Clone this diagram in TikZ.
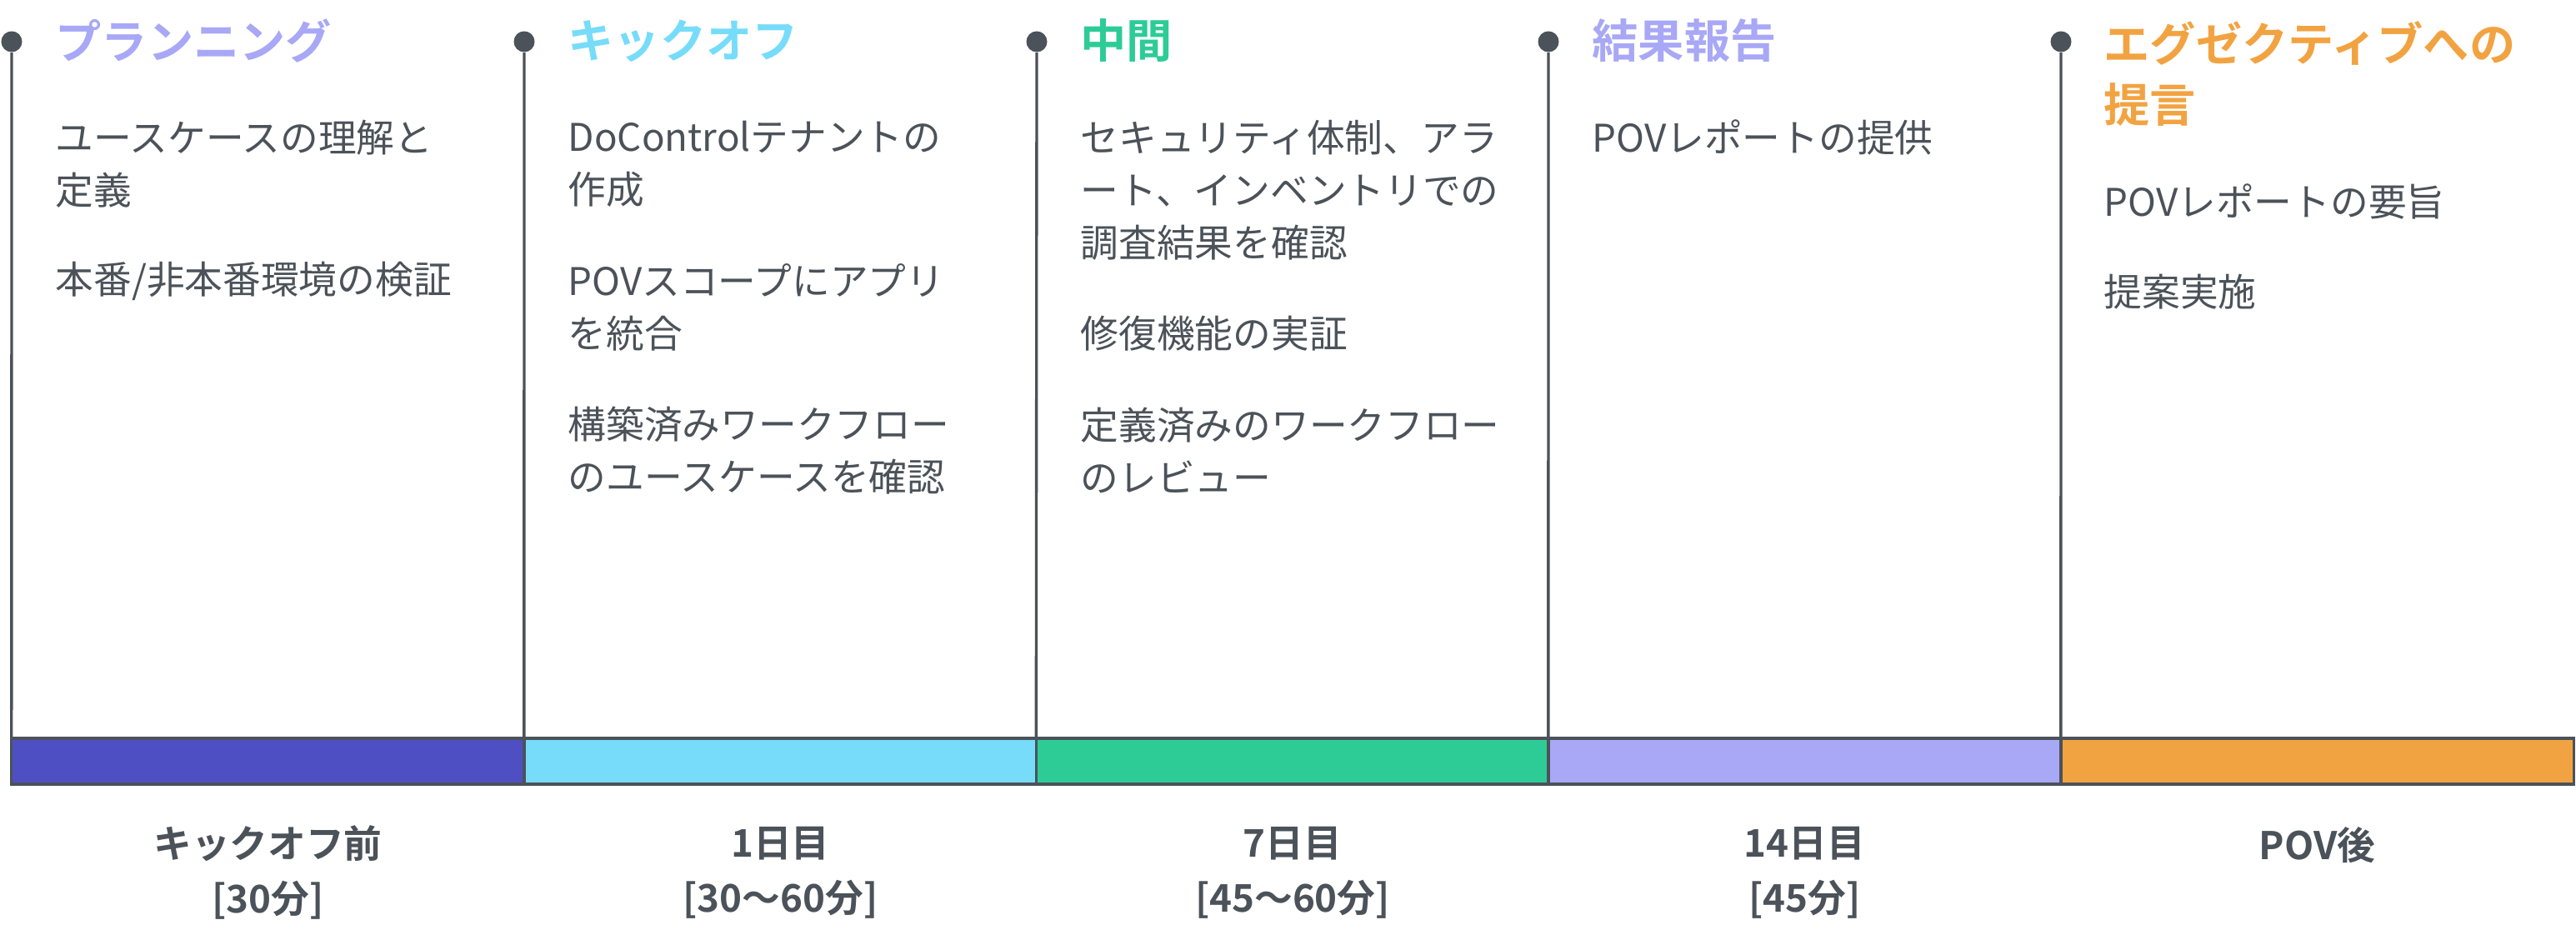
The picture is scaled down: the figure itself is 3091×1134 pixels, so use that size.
\documentclass[tikz,border=0pt]{standalone}
\usepackage{fontspec}
\setmainfont{Noto Sans CJK JP}[BoldFont={Noto Sans CJK JP Bold}]
\definecolor{ink}{HTML}{4B5259}
\definecolor{indigo}{HTML}{4F4FC4}
\definecolor{sky}{HTML}{76DCFA}
\definecolor{mint}{HTML}{2DCC96}
\definecolor{lavender}{HTML}{A8A8F6}
\definecolor{amber}{HTML}{F2A341}
\newcommand{\bodyfont}{\fontsize{13pt}{17.93pt}\selectfont}
\newcommand{\titlefont}{\fontsize{15.7pt}{20.7pt}\selectfont\bfseries}
\newcommand{\dayfont}{\fontsize{13pt}{18.8pt}\selectfont\bfseries}

\begin{document}
\begin{tikzpicture}[x=0.01cm,y=-0.01cm,
    dot/.style={circle,fill=ink,inner sep=0pt,minimum size=0.25cm},
    seg/.style={draw=ink,line width=0.95pt,minimum width=6.15cm,minimum height=0.55cm,inner sep=0pt,outer sep=0pt},
    head/.style={anchor=west,inner sep=0pt,align=left,font=\titlefont},
    item/.style={anchor=west,inner sep=0pt,align=left,font=\bodyfont,text=ink},
    day/.style={inner sep=0pt,align=center,font=\dayfont,text=ink}]
    \useasboundingbox(0,0)rectangle(3091,1134);

    % colour bar
    \node[seg,fill=indigo](seg1)at(321.5,913.5){};
    \node[seg,fill=sky](seg2)at(936.5,913.5){};
    \node[seg,fill=mint](seg3)at(1551,913.5){};
    \node[seg,fill=lavender](seg4)at(2165.5,913.5){};
    \node[seg,fill=amber](seg5)at(2780.5,913.5){};

    % milestones
    \node[dot](dot1)at(14,50){};
    \node[dot](dot2)at(629,50){};
    \node[dot](dot3)at(1244,50){};
    \node[dot](dot4)at(1858,50){};
    \node[dot](dot5)at(2473,50){};
    \draw[ink,line width=0.95pt](dot1)--(seg1.north west);
    \draw[ink,line width=0.95pt](dot2)--(seg2.north west);
    \draw[ink,line width=0.95pt](dot3)--(seg3.north west);
    \draw[ink,line width=0.95pt](dot4)--(seg4.north west);
    \draw[ink,line width=0.95pt](dot5)--(seg5.north west);

    % phase 1
    \node[head,text=lavender](plan)at(66,49){プランニング};
    \node[item](plan1)at(66,196.5){ユースケースの理解と\\定義};
    \node[item](plan2)at(66,337){本番/非本番環境の検証};

    % phase 2
    \node[head,text=sky](kick)at(681,49){キックオフ};
    \node[item](kick1)at(681,196.5){DoControlテナントの\\作成};
    \node[item](kick2)at(681,368.5){POVスコープにアプリ\\を統合};
    \node[item](kick3)at(681,540.5){構築済みワークフロー\\のユースケースを確認};

    % phase 3
    \node[head,text=mint](mid)at(1296,49){中間};
    \node[item](mid1)at(1296,228){セキュリティ体制、アラ\\ート、インベントリでの\\調査結果を確認};
    \node[item](mid2)at(1296,400){修復機能の実証};
    \node[item](mid3)at(1296,540.5){定義済みのワークフロー\\のレビュー};

    % phase 4
    \node[head,text=lavender](result)at(1910,49){結果報告};
    \node[item](result1)at(1910,165){POVレポートの提供};

    % phase 5
    \node[head,text=amber](exec)at(2524,88.5){エグゼクティブへの\\提言};
    \node[item](exec1)at(2524,242){POVレポートの要旨};
    \node[item](exec2)at(2524,350){提案実施};

    % days under the bar
    \node[day](day1)at(321.5,1047){キックオフ前\\{}[30分]};
    \node[day](day2)at(936.5,1047){1日目\\{}[30〜60分]};
    \node[day](day3)at(1551,1047){7日目\\{}[45〜60分]};
    \node[day](day4)at(2165.5,1047){14日目\\{}[45分]};
    \node[day](day5)at(2780.5,1014){POV後};
\end{tikzpicture}
\end{document}
